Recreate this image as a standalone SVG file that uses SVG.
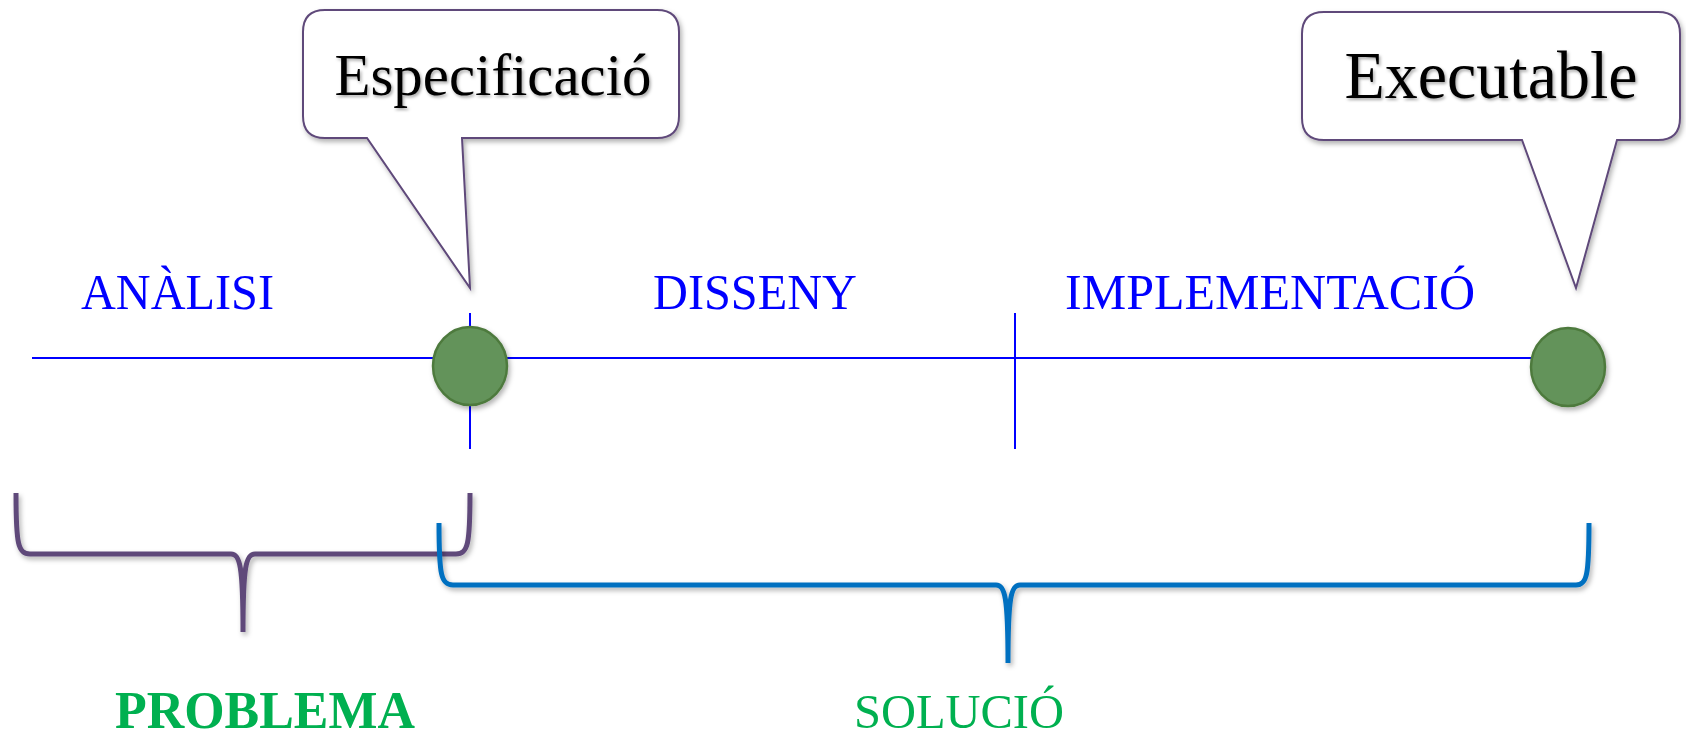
<svg xmlns="http://www.w3.org/2000/svg" width="1686" height="736" viewBox="0 0 1686 736">
<defs>
<filter id="sh" x="-20%" y="-20%" width="140%" height="140%">
<feDropShadow dx="2" dy="3" stdDeviation="2.5" flood-color="#000" flood-opacity="0.3"/>
</filter>
<filter id="tsh" x="-10%" y="-20%" width="120%" height="140%">
<feDropShadow dx="1.5" dy="2" stdDeviation="1.5" flood-color="#000" flood-opacity="0.35"/>
</filter>
</defs>
<style>
.phase{font-family:"Liberation Serif","Times New Roman",serif;font-size:51px;fill:#0000FF}
.call{fill:#FFFFFF;stroke:#5F497A;stroke-width:2;stroke-linejoin:miter}
.calltxt{font-family:"Liberation Serif","Times New Roman",serif;fill:#000;text-anchor:middle}
.axis{stroke:#0000FF;stroke-width:2;fill:none}
.node{fill:#64935A;stroke:#4E7A3E;stroke-width:2.5}
.brace{fill:none;stroke-width:5;stroke-linecap:butt;stroke-linejoin:round}
.lab{font-family:"Liberation Serif","Times New Roman",serif;fill:#00B050}
</style>
<rect width="1686" height="736" fill="#FFFFFF"/>

<g id="connectors">
<line class="axis" x1="32" y1="358" x2="1540" y2="358"/>
<line class="axis" x1="470" y1="313" x2="470" y2="449"/>
<line class="axis" x1="1015" y1="313" x2="1015" y2="449"/>
</g>

<g id="analisi"><text class="phase" x="81" y="309" textLength="193" lengthAdjust="spacingAndGlyphs">ANÀLISI</text></g>
<g id="disseny"><text class="phase" x="653" y="309" textLength="204" lengthAdjust="spacingAndGlyphs">DISSENY</text></g>
<g id="implementacio"><text class="phase" x="1065" y="309" textLength="410" lengthAdjust="spacingAndGlyphs">IMPLEMENTACIÓ</text></g>

<g id="node-especificacio"><ellipse class="node" cx="470" cy="366" rx="37" ry="39" filter="url(#sh)"/></g>
<g id="node-executable"><ellipse class="node" cx="1568" cy="367" rx="37" ry="39" filter="url(#sh)"/></g>

<g id="callout-especificacio" filter="url(#sh)">
<path class="call" d="M325,10 H657 Q679,10 679,32 V116 Q679,138 657,138 H462 L470,288 L367,138 H325 Q303,138 303,116 V32 Q303,10 325,10 Z"/>
<text class="calltxt" x="493" y="95" font-size="60" filter="url(#tsh)" textLength="317" lengthAdjust="spacingAndGlyphs">Especificació</text>
</g>

<g id="callout-executable" filter="url(#sh)">
<path class="call" d="M1324,12 H1658 Q1680,12 1680,34 V118 Q1680,140 1658,140 H1617 L1576,288 L1522,140 H1324 Q1302,140 1302,118 V34 Q1302,12 1324,12 Z"/>
<text class="calltxt" x="1491" y="98" font-size="68" filter="url(#tsh)" textLength="293" lengthAdjust="spacingAndGlyphs">Executable</text>
</g>

<g id="brace-problema" filter="url(#sh)">
<path class="brace" stroke="#5F497A" d="M16,493 C16,544 18,554 30,554 L231,554 C240,554 243,566 243,632 M243,632 C243,566 246,554 255,554 L456,554 C468,554 470,544 470,493"/>
</g>
<g id="brace-solucio" filter="url(#sh)">
<path class="brace" stroke="#0070C0" d="M439,523 C439,575 441,585 453,585 L996,585 C1005,585 1008,597 1008,663 M1008,663 C1008,597 1011,585 1020,585 L1576,585 C1587,585 1589,575 1589,523"/>
</g>

<g id="label-problema"><text class="lab" x="115" y="728" font-size="52" font-weight="bold" textLength="300" lengthAdjust="spacingAndGlyphs">PROBLEMA</text></g>
<g id="label-solucio"><text class="lab" x="854" y="728" font-size="49" textLength="210" lengthAdjust="spacingAndGlyphs">SOLUCIÓ</text></g>
</svg>
